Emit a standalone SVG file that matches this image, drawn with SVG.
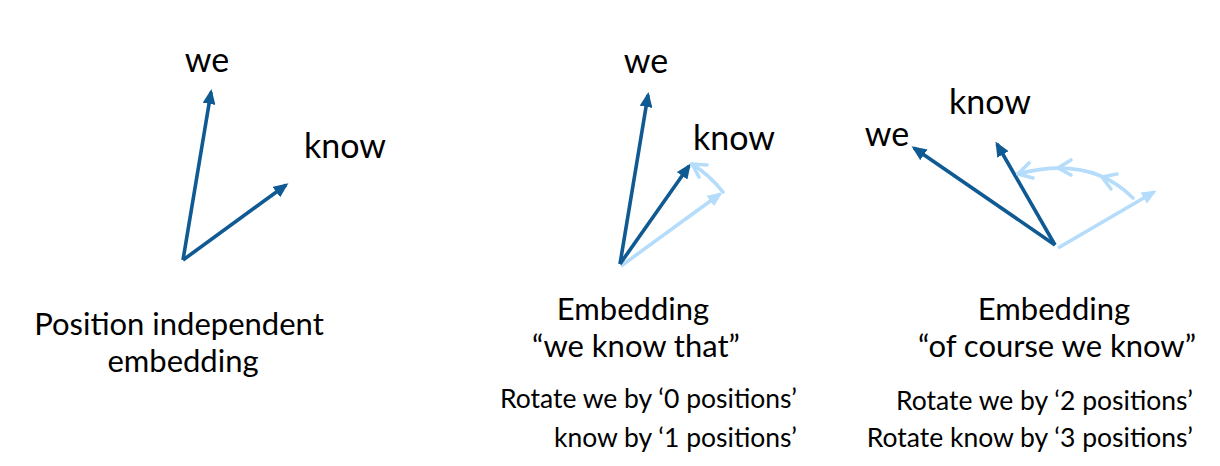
<svg xmlns="http://www.w3.org/2000/svg" width="1220" height="466" viewBox="0 0 1220 466">
  <style>
    text { font-family: "Lato", "Liberation Sans", sans-serif; fill: #000; }
    .word { font-size: 34px; text-anchor: middle; }
    .cap { font-size: 31px; text-anchor: middle; }
    .note { font-size: 26.5px; text-anchor: end; }
    .dark { stroke: #0f5a93; stroke-width: 3.6; fill: none; marker-end: url(#headDark); }
    .light { stroke: #b5ddfb; stroke-width: 3.6; fill: none; marker-end: url(#headLight); }
    .arc { stroke: #b5ddfb; stroke-width: 3.6; fill: none; stroke-linecap: round; stroke-linejoin: round; }
  </style>
  <defs>
    <marker id="headDark" viewBox="0 0 15 13" refX="12" refY="6.5" markerWidth="15" markerHeight="13" markerUnits="userSpaceOnUse" orient="auto">
      <path d="M0,0 L15,6.5 L0,13 z" fill="#0f5a93"/>
    </marker>
    <marker id="headLight" viewBox="0 0 15 13" refX="12" refY="6.5" markerWidth="15" markerHeight="13" markerUnits="userSpaceOnUse" orient="auto">
      <path d="M0,0 L15,6.5 L0,13 z" fill="#b5ddfb"/>
    </marker>
  </defs>

  <!-- vectors -->
  <g id="connectors">
    <!-- position independent -->
    <path class="dark" d="M183,260 L211,92"/>
    <path class="dark" d="M183,260 L286,185"/>
    <!-- we know that -->
    <path class="light" d="M621,266 L720,194"/>
    <path class="dark" d="M620,264 L648,95"/>
    <path class="dark" d="M620,264 L689,166"/>
    <path class="arc" d="M723,192 A125,125 0 0 0 692,164"/>
    <path class="arc" d="M699,177 L692,164 L707,165"/>
    <!-- of course we know -->
    <path class="light" d="M1058,248 L1154,192"/>
    <path class="dark" d="M1055,245 L914,148"/>
    <path class="dark" d="M1055,245 L997,144"/>
    <path class="arc" d="M1133,198 Q1090,155 1018,174"/>
    <path class="arc" d="M1111,189 L1102,177 L1117,174"/>
    <path class="arc" d="M1071,175 L1058,168 L1071,160"/>
    <path class="arc" d="M1033,178 L1018,174 L1029,163"/>
  </g>

  <g id="panel-independent">
    <text class="word" x="207" y="72">we</text>
    <text class="word" x="345" y="158">know</text>
    <text class="cap" x="179" y="335">Position independent<tspan x="183" y="372">embedding</tspan></text>
  </g>

  <g id="panel-we-know-that">
    <text class="word" x="646" y="73">we</text>
    <text class="word" x="734" y="150">know</text>
    <text class="cap" x="633" y="320">Embedding<tspan x="636" y="357">“we know that”</tspan></text>
    <text class="note" x="797" y="408">Rotate we by ‘0 positions’<tspan x="797" y="447">know by ‘1 positions’</tspan></text>
  </g>

  <g id="panel-of-course-we-know">
    <text class="word" x="887" y="146">we</text>
    <text class="word" x="990" y="114">know</text>
    <text class="cap" x="1054" y="320">Embedding<tspan x="1057" y="357">“of course we know”</tspan></text>
    <text class="note" x="1193" y="410">Rotate we by ‘2 positions’<tspan x="1193" y="447">Rotate know by ‘3 positions’</tspan></text>
  </g>
</svg>
